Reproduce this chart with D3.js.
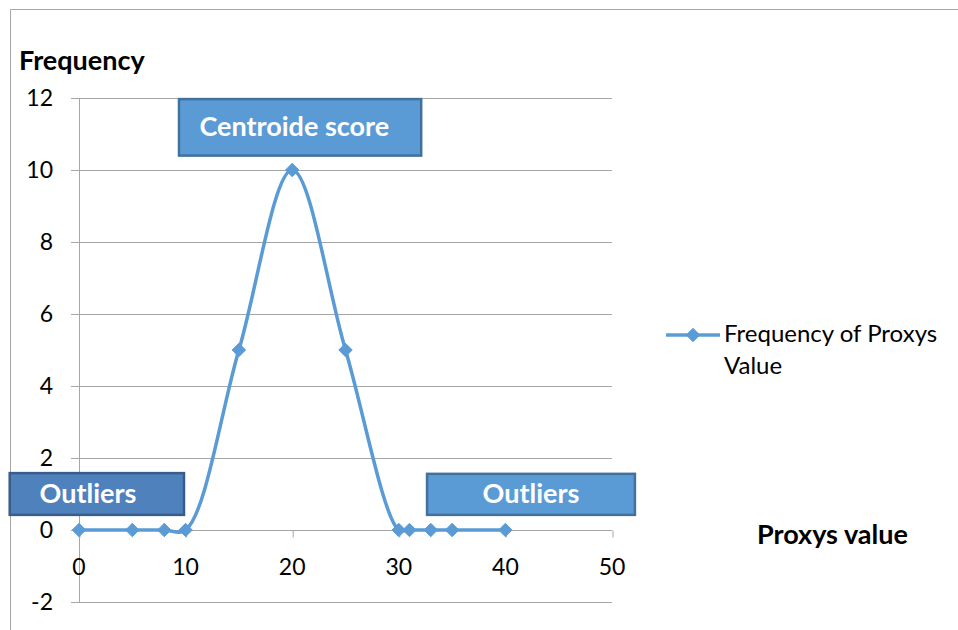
<!DOCTYPE html>
<html>
<head>
<meta charset="utf-8">
<script src="https://cdn.jsdelivr.net/npm/d3@7"></script>
<style>
  html, body { margin: 0; padding: 0; background: #fff; }
  svg text { font-family: Lato, "Open Sans", sans-serif; }
</style>
</head>
<body>
<svg id="chart" width="958" height="630"></svg>
<script>
// Proxy values and how often each occurs
const proxyValues = [0, 5, 8, 10, 15, 20, 25, 30, 31, 33, 35, 40];
const frequencies = [0, 0, 0, 0, 5, 10, 5, 0, 0, 0, 0, 0];
const xTicks = [0, 10, 20, 30, 40, 50];
const yTicks = [-2, 0, 2, 4, 6, 8, 10, 12];
const seriesName = ["Frequency of Proxys", "Value"];

// Annotation callouts, in data units (x0, x1, y0, y1)
const callouts = [
  { label: "Centroide score", x0: 9.38, x1: 32.1, y0: 10.4, y1: 11.97, fill: "#5b9bd5", stroke: "#41719c", align: "start", tx: 11.3 },
  { label: "Outliers", x0: -6.5, x1: 9.85, y0: 0.42, y1: 1.58, fill: "#4f81bd", stroke: "#385d8a", align: "start", tx: -3.7 },
  { label: "Outliers", x0: 32.65, x1: 52.15, y0: 0.42, y1: 1.56, fill: "#5b9bd5", stroke: "#41719c", align: "middle", tx: 42.4 }
];

const svg = d3.select("#chart");
const blue = "#5b9bd5";
const grid = "#a6a6a6";

const x = d3.scaleLinear().domain([0, 50]).range([79, 612]);
const y = d3.scaleLinear().domain([-2, 12]).range([602, 98]);

// Chart frame (partly visible)
svg.append("path")
  .attr("d", "M10.5,630 V9.5 H958")
  .attr("fill", "none").attr("stroke", grid).attr("stroke-width", 1);

// Horizontal gridlines
svg.append("g").selectAll("line")
  .data(yTicks.filter(d => d !== 0))
  .join("line")
  .attr("x1", 71).attr("x2", x(50))
  .attr("y1", d => Math.round(y(d)) + 0.5).attr("y2", d => Math.round(y(d)) + 0.5)
  .attr("stroke", grid).attr("stroke-width", 1);

// Vertical axis
svg.append("line")
  .attr("x1", x(0) + 0.5).attr("x2", x(0) + 0.5)
  .attr("y1", y(12)).attr("y2", y(-2))
  .attr("stroke", grid);

// Horizontal axis at zero with tick marks
const xAxis = d3.axisBottom(x).tickValues(xTicks).tickSize(7).tickFormat("");
const gx = svg.append("g")
  .attr("transform", `translate(0.5,${Math.round(y(0)) + 0.5})`)
  .call(xAxis);
gx.select(".domain").attr("stroke", grid).attr("d", `M${x(0) - 8.5},0H${x(50) - 0.5}`);
gx.selectAll(".tick line").attr("stroke", grid);

// Y tick labels
svg.append("g").selectAll("text")
  .data(yTicks)
  .join("text")
  .attr("x", 53).attr("y", d => y(d) + 8)
  .attr("text-anchor", "end")
  .attr("font-size", 23).attr("fill", "#000")
  .text(d => d);

// X tick labels
svg.append("g").selectAll("text")
  .data(xTicks)
  .join("text")
  .attr("x", d => x(d)).attr("y", 575)
  .attr("text-anchor", "middle")
  .attr("font-size", 23).attr("fill", "#000")
  .text(d => d);

// Axis titles
svg.append("text").attr("x", 19).attr("y", 70)
  .attr("font-size", 27).attr("font-weight", "bold").text("Frequency");
svg.append("text").attr("x", 757).attr("y", 544)
  .attr("font-size", 27).attr("font-weight", "bold").text("Proxys value");

// Smoothed series line
const pts = proxyValues.map((v, i) => [v, frequencies[i]]);
const line = d3.line()
  .x(d => x(d[0])).y(d => y(d[1]))
  .curve(d3.curveCatmullRom.alpha(0.5));
svg.append("path")
  .datum(pts)
  .attr("d", line)
  .attr("fill", "none").attr("stroke", blue)
  .attr("stroke-width", 3.5).attr("stroke-linejoin", "round");

// Square diamond marker
const diamondType = {
  draw(ctx, size) {
    const r = Math.sqrt(size / 2);
    ctx.moveTo(0, -r); ctx.lineTo(r, 0); ctx.lineTo(0, r); ctx.lineTo(-r, 0); ctx.closePath();
  }
};
const diamond = d3.symbol().type(diamondType).size(90);
svg.append("g").selectAll("path")
  .data(pts)
  .join("path")
  .attr("transform", d => `translate(${x(d[0])},${y(d[1])})`)
  .attr("d", diamond)
  .attr("fill", blue).attr("stroke", blue).attr("stroke-width", 1);

// Callout boxes
const cg = svg.append("g").selectAll("g").data(callouts).join("g");
cg.append("rect")
  .attr("x", d => x(d.x0)).attr("y", d => y(d.y1))
  .attr("width", d => x(d.x1) - x(d.x0)).attr("height", d => y(d.y0) - y(d.y1))
  .attr("fill", d => d.fill).attr("stroke", d => d.stroke).attr("stroke-width", 2.5);
cg.append("text")
  .attr("x", d => x(d.tx))
  .attr("y", d => (y(d.y0) + y(d.y1)) / 2 + 9)
  .attr("text-anchor", d => d.align)
  .attr("font-size", 27).attr("font-weight", "bold").attr("fill", "#fff")
  .text(d => d.label);

// Legend
const lg = svg.append("g");
lg.append("line").attr("x1", 666).attr("x2", 720).attr("y1", 335).attr("y2", 335)
  .attr("stroke", blue).attr("stroke-width", 3.5);
lg.append("path").attr("transform", "translate(693,335)").attr("d", diamond)
  .attr("fill", blue).attr("stroke", blue);
lg.selectAll("text").data(seriesName).join("text")
  .attr("x", 724).attr("y", (d, i) => 342 + i * 32)
  .attr("font-size", 24).attr("fill", "#000")
  .text(d => d);
</script>
</body>
</html>
